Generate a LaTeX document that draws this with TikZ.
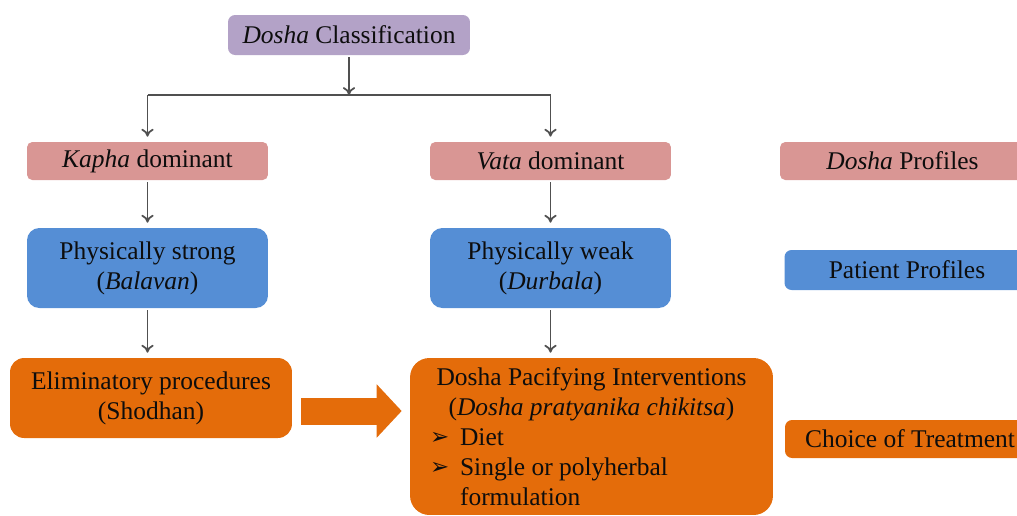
\documentclass[tikz,border=0pt]{standalone}
\usepackage{fontspec}
\setmainfont{Liberation Serif}
\newfontfamily\dingfont{DejaVu Sans}
\usetikzlibrary{arrows.meta,calc,positioning,shapes}
\definecolor{lilac}{RGB}{179,162,199}
\definecolor{rose}{RGB}{217,150,148}
\definecolor{skyblue}{RGB}{85,142,213}
\definecolor{pumpkin}{RGB}{228,108,10}
\definecolor{gray80}{RGB}{80,80,80}
\newcommand{\bul}{\makebox[0.6cm][l]{\raisebox{0.5pt}{\dingfont\fontsize{13}{15}\selectfont ➢}}}
\newcommand{\bline}[1]{\makebox[6.46cm][l]{#1}}

\begin{document}
\begin{tikzpicture}
          [x=0.02cm,y=-0.02cm,
            every node/.style={rectangle,draw=none,inner sep=0pt,text=black!95,
              font=\fontsize{14.5}{17}\selectfont},
            topbox/.style={fill=lilac,rounded corners=4pt},
            doshabox/.style={fill=rose,rounded corners=3pt,minimum height=0.76cm},
            patbox/.style={fill=skyblue,rounded corners=7pt,align=center},
            treatbox/.style={fill=pumpkin,rounded corners=8pt,align=center},
            conn/.style={draw=gray80,line width=1pt,-{To[length=4.5pt,width=7pt]},
              shorten <=1pt,shorten >=0.1cm},
            bigarrow/.style={draw=pumpkin,line width=0.54cm,
              -{Triangle[length=0.5cm,width=1.04cm]}},
          ]
          \clip (0,0) rectangle (1017,515);

          % top of the tree
          \node[topbox,minimum width=4.84cm,minimum height=0.8cm] (cls) at (349,35)
            {\textit{Dosha} Classification};
          \coordinate (split) at (349,95);

          % dosha profiles
          \node[doshabox,minimum width=4.82cm] (kapha) at (147.5,161) {\textit{Kapha} dominant};
          \node[doshabox,minimum width=4.82cm] (vata) at (550.5,161) {\textit{Vata} dominant};
          \node[doshabox,minimum width=4.9cm] (dprof) at (902.5,161) {\textit{Dosha} Profiles};

          % patient profiles
          \node[patbox,minimum width=4.82cm,minimum height=1.6cm] (strong) at (147.5,268)
            {Physically strong\\(\textit{Balavan})};
          \node[patbox,minimum width=4.82cm,minimum height=1.6cm] (weak) at (550.5,268)
            {Physically weak\\(\textit{Durbala})};
          \node[patbox,rounded corners=4pt,minimum width=4.9cm,minimum height=0.8cm] (pprof)
            at (907,270) {Patient Profiles};

          % choice of treatment
          \node[treatbox,minimum width=5.64cm,minimum height=1.6cm] (elim) at (151,398)
            {Eliminatory procedures\\(Shodhan)};
          \node[treatbox,rounded corners=11pt,minimum width=7.26cm,minimum height=3.14cm]
            (pac) at (591.5,436.5)
            {Dosha Pacifying Interventions\\(\textit{Dosha pratyanika chikitsa})\\
             \bline{\bul Diet}\\\bline{\bul Single or polyherbal}\\
             \bline{\hspace*{0.6cm}formulation}};
          \node[treatbox,rounded corners=4pt,minimum width=5cm,minimum height=0.76cm] (choice)
            at (910,439) {Choice of Treatment};

          % connectors
          \draw[conn,shorten >=0pt] (cls) -- (split);
          \draw[draw=gray80,line width=1pt] (kapha.north |- split) -- (vata.north |- split);
          \draw[conn,shorten <=0pt] (kapha.north |- split) -- (kapha);
          \draw[conn,shorten <=0pt] (vata.north |- split) -- (vata);
          \draw[conn] (kapha) -- (strong);
          \draw[conn] (vata) -- (weak);
          \draw[conn] (strong) -- (strong.south |- elim.north);
          \draw[conn] (weak) -- (weak.south |- pac.north);
          \draw[bigarrow] ($(elim.east)+(9,13)$) coordinate (ba) -- ($(pac.west |- ba)+(-8,0)$);
        \end{tikzpicture}
\end{document}
